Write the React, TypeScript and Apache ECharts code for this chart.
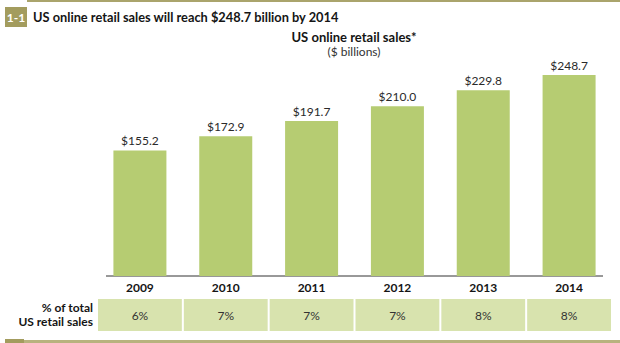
import React, { useEffect, useRef } from "react";
import * as echarts from "echarts";

const years = ["2009", "2010", "2011", "2012", "2013", "2014"];
const sales = [155.2, 172.9, 191.7, 210.0, 229.8, 248.7];
const pctOfTotal = [6, 7, 7, 7, 8, 8];

const FONT = "Lato, 'Open Sans', sans-serif";
const OLIVE = "#a39c5e";
const BAR = "#b6cc72";
const CELL = "#d8e3ae";

export default function App() {
  const ref = useRef<HTMLDivElement>(null);
  useEffect(() => {
    if (!ref.current) return;
    const chart = echarts.init(ref.current, undefined, { renderer: "svg" });
    chart.setOption({
      animation: false,
      backgroundColor: "#ffffff",
      textStyle: { fontFamily: FONT },
      grid: [
        { left: 97, right: 8, top: 60, height: 216 },
        { left: 97, right: 8, top: 299, height: 32 },
      ],
      xAxis: [
        {
          type: "category",
          gridIndex: 0,
          data: years,
          axisLine: { show: false },
          axisTick: { show: false },
          axisLabel: { fontFamily: FONT, fontWeight: "bold", fontSize: 12, color: "#151515", margin: 5 },
        },
        {
          type: "category",
          gridIndex: 1,
          data: years,
          show: false,
        },
      ],
      yAxis: [
        { type: "value", gridIndex: 0, min: 0, max: 267.3, show: false },
        { type: "value", gridIndex: 1, min: 0, max: 1, show: false },
      ],
      series: [
        {
          type: "bar",
          xAxisIndex: 0,
          yAxisIndex: 0,
          data: sales,
          barWidth: 53,
          itemStyle: { color: BAR },
          label: {
            show: true,
            position: "top",
            distance: 4,
            fontFamily: FONT,
            fontSize: 12,
            color: "#2a2a2a",
            formatter: (p: any) => "$" + Number(p.value).toFixed(1),
          },
        },
        {
          type: "custom",
          xAxisIndex: 1,
          yAxisIndex: 1,
          data: pctOfTotal.map((v, i) => [i, v]),
          renderItem: (params: any, api: any) => {
            const c = api.coord([api.value(0), 0]);
            const band = api.size([1, 0])[0];
            const cs = params.coordSys;
            return {
              type: "group",
              children: [
                {
                  type: "rect",
                  shape: { x: c[0] - band / 2 + 1, y: cs.y, width: band - 2, height: cs.height },
                  style: { fill: CELL },
                },
                {
                  type: "text",
                  style: {
                    text: api.value(1) + "%",
                    x: c[0],
                    y: cs.y + cs.height / 2,
                    align: "center",
                    verticalAlign: "middle",
                    fill: "#333333",
                    font: "12px " + FONT,
                  },
                },
              ],
            };
          },
        },
      ],
      graphic: [
        { type: "rect", shape: { x: 27, y: 0, width: 593, height: 2 }, style: { fill: "#aaa46c" } },
        { type: "rect", shape: { x: 5, y: 7, width: 22, height: 20 }, style: { fill: OLIVE } },
        {
          type: "text",
          style: { text: "1-1", x: 16, y: 17, align: "center", verticalAlign: "middle", fill: "#ffffff", font: "bold 12px " + FONT },
        },
        {
          type: "text",
          style: {
            text: "US online retail sales will reach $248.7 billion by 2014",
            x: 33,
            y: 17,
            verticalAlign: "middle",
            fill: "#151515",
            font: "bold 12.8px " + FONT,
          },
        },
        {
          type: "text",
          style: { text: "US online retail sales*", x: 354, y: 37, align: "center", verticalAlign: "middle", fill: "#151515", font: "bold 13px " + FONT },
        },
        {
          type: "text",
          style: { text: "($ billions)", x: 354, y: 51, align: "center", verticalAlign: "middle", fill: "#333333", font: "12px " + FONT },
        },
        { type: "line", shape: { x1: 106, y1: 276, x2: 603, y2: 276 }, style: { stroke: "#333333", lineWidth: 1 } },
        {
          type: "text",
          style: { text: "% of total", x: 93, y: 307, align: "right", verticalAlign: "middle", fill: "#151515", font: "bold 12px " + FONT },
        },
        {
          type: "text",
          style: { text: "US retail sales", x: 93, y: 321, align: "right", verticalAlign: "middle", fill: "#151515", font: "bold 12px " + FONT },
        },
        { type: "rect", shape: { x: 24, y: 340, width: 596, height: 3 }, style: { fill: "#b8b27e" } },
        { type: "rect", shape: { x: 5, y: 339, width: 19, height: 4 }, style: { fill: OLIVE } },
      ],
    });
    return () => chart.dispose();
  }, []);
  return <div ref={ref} style={{ width: 620, height: 343, position: "fixed", left: 0, top: 0 }} />;
}
